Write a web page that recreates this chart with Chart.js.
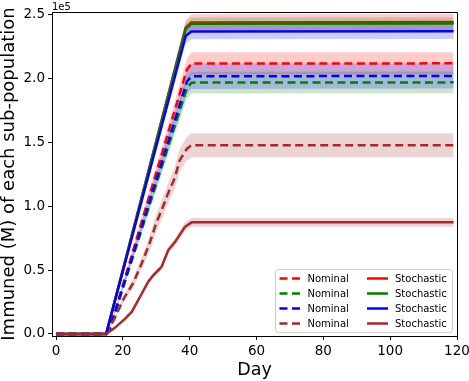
<!DOCTYPE html>
<html>
<head>
<meta charset="utf-8">
<script src="https://cdn.jsdelivr.net/npm/chart.js@4.4.1/dist/chart.umd.min.js"></script>
<style>
html,body{margin:0;padding:0;background:#fff;}
#wrap{width:469px;height:381px;}
</style>
</head>
<body>
<div id="wrap"><canvas id="c" width="469" height="381"></canvas></div>
<script>
// axis ticks
const xTicks = [0, 20, 40, 60, 80, 100, 120];
const yTicks = [0, 50000, 100000, 150000, 200000, 250000];

// nominal runs (dashed)
const nomDays = [0, 15, 16, 39.2, 40.6, 119];
const nomRed = [0, 0, 3000, 207500, 212000, 212100];
const nomRedBand = [0, 0, 100, 8600, 8800, 8800];
const nomGreen = [0, 0, 3000, 193000, 197000, 197200];
const nomGreenBand = [0, 0, 100, 8400, 8600, 8600];
const nomBlue = [0, 0, 3000, 198000, 202000, 202200];
const nomBlueBand = [0, 0, 100, 9600, 9900, 9900];
const nomBrownDays = [0, 15, 17.5, 20.1, 23.1, 25.6, 28, 30, 31.6, 33.5, 35.5, 37, 39.1, 40.5, 119];
const nomBrown = [0, 0, 12000, 27000, 40000, 55000, 71000, 87000, 97000, 110000, 122000, 136000, 145000, 148000, 148000];
const nomBrownBand = [0, 0, 1000, 2500, 3500, 4500, 6000, 7000, 7500, 8000, 8500, 9000, 9300, 9400, 9400];

// stochastic runs (solid)
const stoDays = [0, 15, 38.8, 40.5, 119];
const stoRed = [0, 0, 240000, 244200, 244500];
const stoRedBand = [0, 0, 6000, 6300, 6300];
const stoGreen = [0, 0, 239000, 243100, 243300];
const stoGreenBand = [0, 0, 4800, 5000, 5000];
const stoBlue = [0, 0, 233500, 237000, 237300];
const stoBlueBand = [0, 0, 5800, 6100, 6100];
const stoBrownDays = [0, 15, 17.7, 20.7, 22.7, 24.6, 27.6, 29.1, 31.6, 33.6, 35.6, 38.6, 40.6, 119];
const stoBrown = [0, 0, 5000, 12000, 17500, 26500, 41000, 46000, 52700, 65800, 72000, 84000, 87500, 87500];
const stoBrownBand = [0, 0, 300, 600, 800, 1200, 1700, 1900, 2200, 2600, 2900, 3300, 3500, 3500];

const FONT = "'DejaVu Sans', sans-serif";
const datasets = [];
const legendItems = [];

function pts(days, vals, band, sign) {
  return days.map((d, i) => ({x: d, y: vals[i] + sign * band[i]}));
}

function addSeries(days, vals, band, color, fillColor, dashed, label, order, col) {
  datasets.push({data: pts(days, vals, band, -1), borderWidth: 0, pointRadius: 0, fill: false, order: 100 + order});
  datasets.push({data: pts(days, vals, band, 1), borderWidth: 0, pointRadius: 0,
    fill: '-1', backgroundColor: fillColor, order: 100 + order});
  datasets.push({label: label, data: pts(days, vals, band, 0), borderColor: color, borderWidth: 2.5,
    borderDash: dashed ? [8, 4.5] : [], pointRadius: 0, fill: false, tension: 0, order: order});
  legendItems.push({label: label, color: color, dashed: dashed, col: col});
}

addSeries(nomDays, nomRed, nomRedBand, '#ff0000', 'rgba(255,0,0,0.2)', true, 'Nominal', 8, 0);
addSeries(nomDays, nomGreen, nomGreenBand, '#008000', 'rgba(0,128,0,0.2)', true, 'Nominal', 7, 0);
addSeries(nomDays, nomBlue, nomBlueBand, '#0000ff', 'rgba(0,0,255,0.2)', true, 'Nominal', 6, 0);
addSeries(nomBrownDays, nomBrown, nomBrownBand, '#a52a2a', 'rgba(165,42,42,0.2)', true, 'Nominal', 5, 0);
addSeries(stoDays, stoRed, stoRedBand, '#ff0000', 'rgba(255,0,0,0.2)', false, 'Stochastic', 4, 1);
addSeries(stoDays, stoGreen, stoGreenBand, '#008000', 'rgba(0,128,0,0.2)', false, 'Stochastic', 3, 1);
addSeries(stoDays, stoBlue, stoBlueBand, '#0000ff', 'rgba(0,0,255,0.2)', false, 'Stochastic', 2, 1);
addSeries(stoBrownDays, stoBrown, stoBrownBand, '#a52a2a', 'rgba(165,42,42,0.2)', false, 'Stochastic', 1, 1);

// box on top/right, offset text and the two-column legend
const extras = {
  id: 'extras',
  afterDraw(chart) {
    const ctx = chart.ctx, a = chart.chartArea;
    ctx.save();
    ctx.strokeStyle = '#000';
    ctx.lineWidth = 1;
    ctx.beginPath();
    ctx.moveTo(Math.round(a.left), Math.round(a.top) + 0.5);
    ctx.lineTo(Math.round(a.right) + 0.5, Math.round(a.top) + 0.5);
    ctx.lineTo(Math.round(a.right) + 0.5, Math.round(a.bottom));
    ctx.stroke();

    ctx.fillStyle = '#000';
    ctx.font = '10px ' + FONT;
    ctx.textAlign = 'left';
    ctx.textBaseline = 'alphabetic';
    ctx.fillText('1e5', a.left, 9.5);

    // legend
    const bx = 275.5, by = 269.5, bw = 177, bh = 63;
    ctx.beginPath();
    ctx.roundRect(bx, by, bw, bh, 3);
    ctx.fillStyle = 'rgba(255,255,255,0.8)';
    ctx.fill();
    ctx.strokeStyle = '#cccccc';
    ctx.stroke();
    const rows = [0, 0];
    legendItems.forEach(it => {
      const r = rows[it.col]++;
      const y = 278.5 + r * 15;
      const hx = it.col === 0 ? 279.5 : 367;
      ctx.beginPath();
      ctx.strokeStyle = it.color;
      ctx.lineWidth = 2.5;
      ctx.setLineDash(it.dashed ? [8, 4.5] : []);
      ctx.moveTo(hx, y);
      ctx.lineTo(hx + 21, y);
      ctx.stroke();
      ctx.setLineDash([]);
      ctx.fillStyle = '#000';
      ctx.font = '10px ' + FONT;
      ctx.textBaseline = 'middle';
      ctx.fillText(it.label, hx + 28, y + 0.5);
    });
    ctx.restore();
  }
};

new Chart(document.getElementById('c'), {
  type: 'line',
  data: {datasets: datasets},
  plugins: [extras],
  options: {
    responsive: false,
    devicePixelRatio: 1,
    animation: false,
    layout: {padding: {left: 0, right: 12, top: 12, bottom: 0}},
    plugins: {legend: {display: false}, tooltip: {enabled: false}},
    scales: {
      x: {
        type: 'linear', min: -1.2, max: 120,
        afterBuildTicks: s => { s.ticks = xTicks.map(v => ({value: v})); },
        afterFit: s => { s.height = 45; s.paddingLeft = 0; s.paddingRight = 0; },
        ticks: {font: {family: FONT, size: 13.5}, color: '#000', padding: 3, maxRotation: 0, autoSkip: false},
        grid: {display: true, drawOnChartArea: false, drawTicks: true, tickLength: 4, color: '#000'},
        border: {display: true, color: '#000', width: 1},
        title: {display: true, text: 'Day', color: '#000', font: {family: FONT, size: 17.5, lineHeight: 1.2}, padding: {top: 0, bottom: 0}}
      },
      y: {
        type: 'linear', min: -1570, max: 252350,
        afterBuildTicks: s => { s.ticks = yTicks.map(v => ({value: v})); },
        afterFit: s => { s.width = 52; s.paddingTop = 0; s.paddingBottom = 0; },
        ticks: {font: {family: FONT, size: 13.5}, color: '#000', padding: 3,
          callback: v => (v / 100000).toFixed(1)},
        grid: {display: true, drawOnChartArea: false, drawTicks: true, tickLength: 4, color: '#000'},
        border: {display: true, color: '#000', width: 1},
        title: {display: true, text: 'Immuned (M) of each sub-population', color: '#000',
          font: {family: FONT, size: 18, lineHeight: 1.0}, padding: {top: 0, bottom: 0}}
      }
    }
  }
});
</script>
</body>
</html>
